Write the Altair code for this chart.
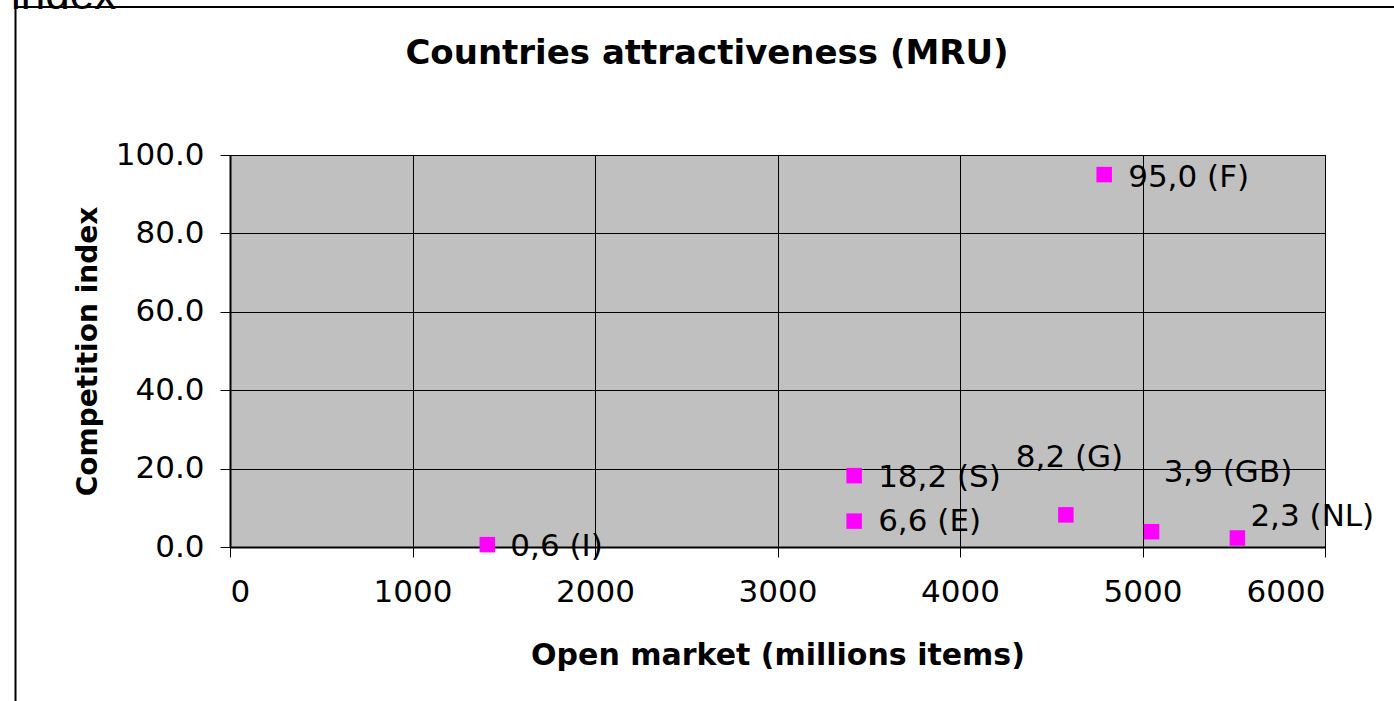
import altair as alt
import pandas as pd

# ---- data ----
countries = ["I", "S", "E", "G", "GB", "NL", "F"]
open_market = [1410, 3420, 3420, 4580, 5050, 5520, 4790]
competition = [0.6, 18.2, 6.6, 8.2, 3.9, 2.3, 95.0]
labels = ["0,6 (I)", "18,2 (S)", "6,6 (E)", "8,2 (G)", "3,9 (GB)", "2,3 (NL)", "95,0 (F)"]
x_ticks = [0, 1000, 2000, 3000, 4000, 5000, 6000]
y_ticks = [0, 20, 40, 60, 80, 100]

df = pd.DataFrame({"country": countries, "x": open_market, "y": competition, "label": labels})

W, H = 1095, 392
PAD_L, PAD_T = 230, 155
FONT = "DejaVu Sans"

xs = alt.Scale(domain=[0, 6000], nice=False, zero=False)
ys = alt.Scale(domain=[0, 100], nice=False, zero=False)

base = alt.Chart(df)

points = base.mark_point(shape="square", filled=True, color="#FF00FF", opacity=1, size=240).encode(
    x=alt.X("x:Q", scale=xs, axis=alt.Axis(
        values=x_ticks, format="d", title="Open market (millions items)",
        grid=True, gridColor="#000000", gridWidth=1, gridOpacity=1,
        domainColor="#000000", domainWidth=2,
        tickColor="#000000", tickSize=10, tickWidth=1,
        labelFont=FONT, labelFontSize=31, labelColor="#000000", labelPadding=20,
        titleFont=FONT, titleFontSize=30, titleFontWeight="bold", titleColor="#000000",
        titleBaseline="middle", titleX=W / 2, titleY=108)),
    y=alt.Y("y:Q", scale=ys, axis=alt.Axis(
        values=y_ticks, format=".1f", title="Competition index",
        grid=True, gridColor="#000000", gridWidth=1, gridOpacity=1,
        domainColor="#000000", domainWidth=2,
        tickColor="#000000", tickSize=10, tickWidth=1,
        labelFont=FONT, labelFontSize=31, labelColor="#000000", labelPadding=16,
        titleFont=FONT, titleFontSize=28, titleFontWeight="bold", titleColor="#000000",
        titleBaseline="middle", titleAngle=-90, titleX=-142, titleY=H / 2)),
)

# label offsets (dx, dy) per country
offsets = {"I": (23, 2), "S": (24, 2), "E": (24, 1), "F": (24, 3),
           "G": (-50, -57), "GB": (12, -59), "NL": (13, -21)}

text_layers = []
for c, (dx, dy) in offsets.items():
    text_layers.append(
        base.transform_filter(alt.datum.country == c).mark_text(
            align="left", baseline="middle", dx=dx, dy=dy, font=FONT, fontSize=31, color="#000000"
        ).encode(x=alt.X("x:Q", scale=xs), y=alt.Y("y:Q", scale=ys), text="label:N")
    )

deco = alt.Chart(pd.DataFrame({"a": [0]}))

title = deco.mark_text(text="Countries attractiveness  (MRU)", font=FONT, fontSize=34,
                       fontWeight="bold", align="center", baseline="middle", color="#000000").encode(
    x=alt.value(707 - PAD_L), y=alt.value(54 - PAD_T))

index_txt = deco.mark_text(text="index", font="Liberation Sans", fontSize=44,
                           align="left", baseline="alphabetic", color="#000000").encode(
    x=alt.value(11 - PAD_L), y=alt.value(9 - PAD_T))

frame_top = deco.mark_rule(color="#000000", strokeWidth=2).encode(
    x=alt.value(15 - PAD_L), x2=alt.value(1394 - PAD_L), y=alt.value(7 - PAD_T))
frame_left = deco.mark_rule(color="#000000", strokeWidth=2).encode(
    x=alt.value(15.5 - PAD_L), y=alt.value(7 - PAD_T), y2=alt.value(701 - PAD_T))

chart = alt.layer(points, *text_layers, title, index_txt, frame_top, frame_left).properties(
    width=W, height=H,
    autosize=alt.AutoSizeParams(type="none"),
    padding={"left": PAD_L, "top": PAD_T, "right": 1394 - PAD_L - W, "bottom": 701 - PAD_T - H},
    background="#FFFFFF",
).configure_view(fill="#C0C0C0", stroke="#000000", strokeWidth=1)

chart.save("out.html", embed_options={"renderer": "svg", "actions": False})
